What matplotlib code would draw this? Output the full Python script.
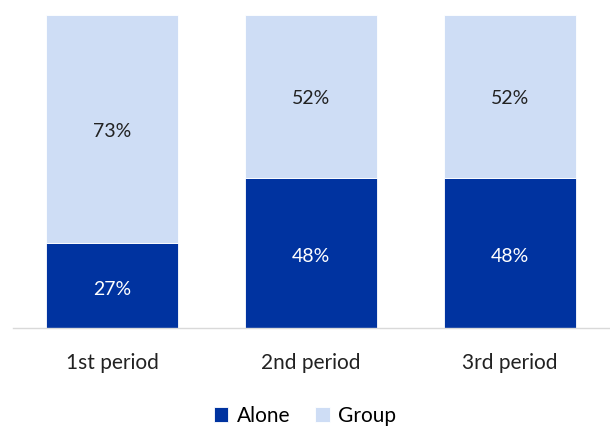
import matplotlib.pyplot as plt
import numpy as np

periods = ["1st period", "2nd period", "3rd period"]
alone = [27, 48, 48]
group = [73, 52, 52]

plt.rcParams["font.family"] = ["Lato", "DejaVu Sans"]

dark = "#0033A0"
light = "#CEDDF5"

fig = plt.figure(figsize=(6.1, 4.3), dpi=100)
ax = fig.add_axes([12.5 / 610, 102 / 430, 597 / 610, 313 / 430])

x = np.arange(len(periods))
a = np.array(alone) / 100
g = np.array(group) / 100
b1 = ax.bar(x, a, width=0.66, color=dark, edgecolor="white", linewidth=0.6, label="Alone")
b2 = ax.bar(x, g, width=0.66, bottom=a, color=light, edgecolor="white", linewidth=0.6, label="Group")

# value labels, nudged slightly below the segment middle
for xi, av, gv in zip(x, alone, group):
    ax.text(xi, av / 200 - 0.012, f"{av}%", ha="center", va="center", color="white", fontsize=14)
    ax.text(xi, av / 100 + gv / 200 - 0.006, f"{gv}%", ha="center", va="center", color="#222222", fontsize=14)

ax.set_xlim(-0.5, 2.5)
ax.set_ylim(0, 1)
ax.set_yticks([])
ax.set_xticks(x)
ax.set_xticklabels(periods, fontsize=15, color="#222222")
ax.tick_params(axis="x", length=0, pad=18)
for s in ["top", "right", "left"]:
    ax.spines[s].set_visible(False)
ax.spines["bottom"].set_color("#D9D9D9")
ax.spines["bottom"].set_linewidth(1)

fig.legend(handles=[b1, b2], loc="center", bbox_to_anchor=(0.5, 1 - 416 / 430),
           ncol=2, frameon=False, fontsize=15, handlelength=0.7, handleheight=0.7,
           columnspacing=1.2, handletextpad=0.4)

fig.savefig("out.png", dpi=100)
